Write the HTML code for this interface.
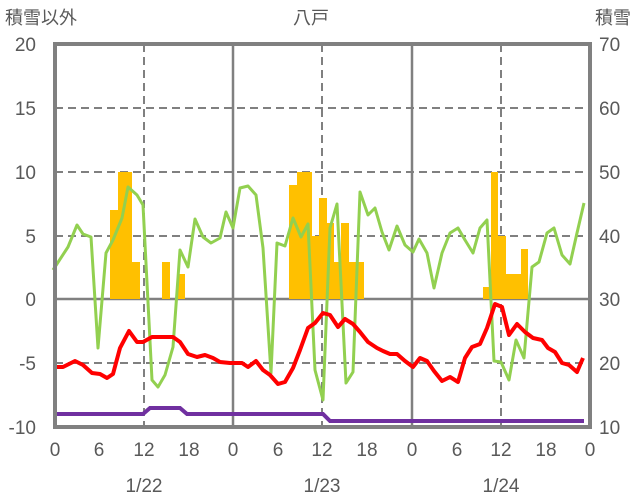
<!DOCTYPE html><html><head><meta charset="utf-8"><style>body{margin:0;background:#fff}svg{display:block}text{font-family:"Liberation Sans","Noto Sans CJK JP",sans-serif;fill:#595959}</style></head><body>
<svg width="636" height="501" viewBox="0 0 636 501">
<g stroke="#808080" stroke-width="2" stroke-dasharray="8,5" fill="none">
<line x1="55" y1="108" x2="590" y2="108"/><line x1="55" y1="172" x2="590" y2="172"/><line x1="55" y1="236" x2="590" y2="236"/><line x1="55" y1="363" x2="590" y2="363"/>
<line x1="144" y1="44" x2="144" y2="427"/><line x1="322" y1="44" x2="322" y2="427"/><line x1="501" y1="44" x2="501" y2="427"/>
</g>
<g stroke="#808080" stroke-width="2.5"><line x1="55" y1="299" x2="590" y2="299"/><line x1="233" y1="44" x2="233" y2="427"/><line x1="412" y1="44" x2="412" y2="427"/></g>
<g fill="#FFC000">
<rect x="110" y="210" width="8" height="89"/><rect x="118" y="172" width="14" height="127"/><rect x="132" y="262" width="8" height="37"/>
<rect x="162" y="262" width="8" height="37"/><rect x="178" y="274" width="7" height="25"/>
<rect x="289" y="185" width="8" height="114"/><rect x="297" y="172" width="15" height="127"/><rect x="312" y="236" width="7" height="63"/><rect x="319" y="198" width="8" height="101"/><rect x="327" y="223" width="7" height="76"/><rect x="334" y="262" width="7" height="37"/><rect x="341" y="223" width="8" height="76"/><rect x="349" y="262" width="15" height="37"/>
<rect x="483" y="287" width="8" height="12"/><rect x="491" y="172" width="7" height="127"/><rect x="498" y="236" width="8" height="63"/><rect x="506" y="274" width="15" height="25"/><rect x="521" y="249" width="7" height="50"/>
</g>
<polyline fill="none" stroke="#7030A0" stroke-width="4" points="53,414 143,414 150,408 180,408 187,414 323,414 330,421 584,421"/>
<polyline fill="none" stroke="#92D050" stroke-width="3" stroke-linejoin="round" points="53,270 68,247 77,225 83,234 91,237 98,348 106,253 113,240 122,218 128,187 137,195 143,205 152,380 158,387 165,375 173,347 180,250 188,267 195,219 203,237 211,243 220,238 226,212 233,228 240,188 248,186 256,195 263,248 271,373 277,243 285,246 293,218 301,237 308,224 315,370 323,400 330,228 337,204 346,383 353,372 360,192 368,215 375,208 382,232 389,250 397,226 405,245 413,252 419,239 427,253 434,288 442,253 450,233 458,228 465,240 473,253 480,228 487,220 494,361 501,362 509,380 516,340 524,358 532,267 539,262 547,233 554,228 562,255 570,264 577,233 584,203"/>
<polyline fill="none" stroke="#FF0000" stroke-width="4" stroke-linejoin="round" points="53,367 63,367 75,361 83,365 92,373 100,374 107,378 113,374 120,348 129,331 137,342 143,342 152,337 173,337 180,342 188,354 197,357 205,355 213,358 220,362 230,363 242,363 248,367 256,361 263,370 270,375 278,384 285,382 293,368 300,350 308,328 315,323 323,313 330,315 338,327 345,319 353,324 360,332 368,342 377,348 383,351 390,354 397,354 405,361 413,367 420,358 427,361 434,371 442,381 450,377 458,382 465,358 472,347 480,344 487,328 495,304 502,307 509,335 517,324 525,332 533,338 542,340 548,348 555,352 562,363 569,365 577,372 583,358"/>
<rect x="55" y="44" width="535" height="383" fill="none" stroke="#808080" stroke-width="4"/>
<g font-size="19" text-anchor="end">
<text x="36" y="51">20</text><text x="36" y="115">15</text><text x="36" y="179">10</text><text x="36" y="243">5</text><text x="36" y="306">0</text><text x="36" y="370">-5</text><text x="36" y="434">-10</text>
</g>
<g font-size="19" text-anchor="start">
<text x="599" y="51">70</text><text x="599" y="115">60</text><text x="599" y="179">50</text><text x="599" y="243">40</text><text x="599" y="306">30</text><text x="599" y="370">20</text><text x="599" y="434">10</text>
</g>
<g font-size="19" text-anchor="middle">
<text x="55" y="456">0</text><text x="99" y="456">6</text><text x="144" y="456">12</text><text x="189" y="456">18</text>
<text x="233" y="456">0</text><text x="278" y="456">6</text><text x="322" y="456">12</text><text x="367" y="456">18</text>
<text x="412" y="456">0</text><text x="457" y="456">6</text><text x="501" y="456">12</text><text x="546" y="456">18</text><text x="590" y="456">0</text>
</g>
<g font-size="19" text-anchor="middle"><text x="144" y="492">1/22</text><text x="322" y="492">1/23</text><text x="501" y="492">1/24</text></g>
<g font-size="18"><text x="5" y="24">積雪以外</text><text x="311" y="24" text-anchor="middle">八戸</text><text x="631" y="24" text-anchor="end">積雪</text></g>
</svg></body></html>
